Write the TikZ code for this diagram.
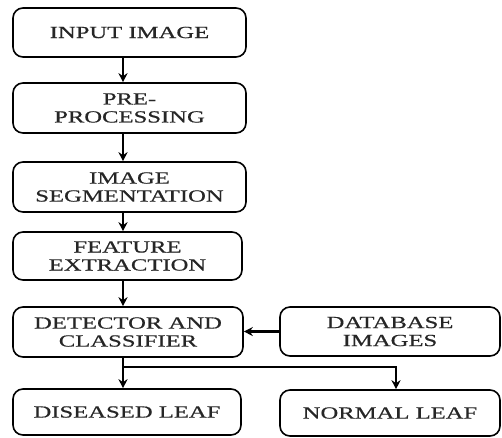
\documentclass[tikz,border=0pt]{standalone}
\usepackage{fontspec}
\setmainfont[FakeStretch=1.45,FakeBold=0.6]{Liberation Serif}
\usetikzlibrary{arrows.meta}
\begin{document}
\begin{tikzpicture}[x=1pt,y=-1pt,
 box/.style={draw, line width=1.6pt, rounded corners=10pt, align=center,
   font=\fontsize{17}{18}\selectfont, inner sep=0pt, text=black!85},
 arr/.style={-{Stealth[length=9pt,width=9pt]}, line width=2.2pt},
 ln/.style={line width=2.2pt}]
\useasboundingbox (0,0) rectangle (502,437);
\node[box, minimum width=233pt, minimum height=49pt] (b1) at (129.5,32.5) {INPUT IMAGE};
\node[box, minimum width=233pt, minimum height=50pt] (b2) at (129.5,108) {PRE-\\PROCESSING};
\node[box, minimum width=233pt, minimum height=50pt] (b3) at (129.5,187) {IMAGE\\SEGMENTATION};
\node[box, minimum width=229pt, minimum height=48pt] (b4) at (127.5,256) {FEATURE\\EXTRACTION};
\node[box, minimum width=230pt, minimum height=50pt] (b5) at (128,332) {DETECTOR AND\\CLASSIFIER};
\node[box, minimum width=228pt, minimum height=46pt] (b6) at (127,412) {DISEASED LEAF};
\node[box, minimum width=220pt, minimum height=49pt] (db) at (390,331.5) {DATABASE\\IMAGES};
\node[box, minimum width=220pt, minimum height=46pt] (nl) at (390,413) {NORMAL LEAF};
\coordinate (a) at (123,0);
\coordinate (s) at (123,367);
\coordinate (t) at (396,367);
\draw[arr] (b1.south -| a) -- (b2.north -| a);
\draw[arr] (b2.south -| a) -- (b3.north -| a);
\draw[arr] (b3.south -| a) -- (b4.north -| a);
\draw[arr] (b4.south -| a) -- (b5.north -| a);
\draw[ln] (b5.south -| a) -- (s);
\draw[arr] (s) -- (b6.north -| s);
\draw[arr] (s) -- (t) -- (nl.north -| t);
\draw[arr] (db.west) -- (b5.east |- db.west);
\end{tikzpicture}
\end{document}
